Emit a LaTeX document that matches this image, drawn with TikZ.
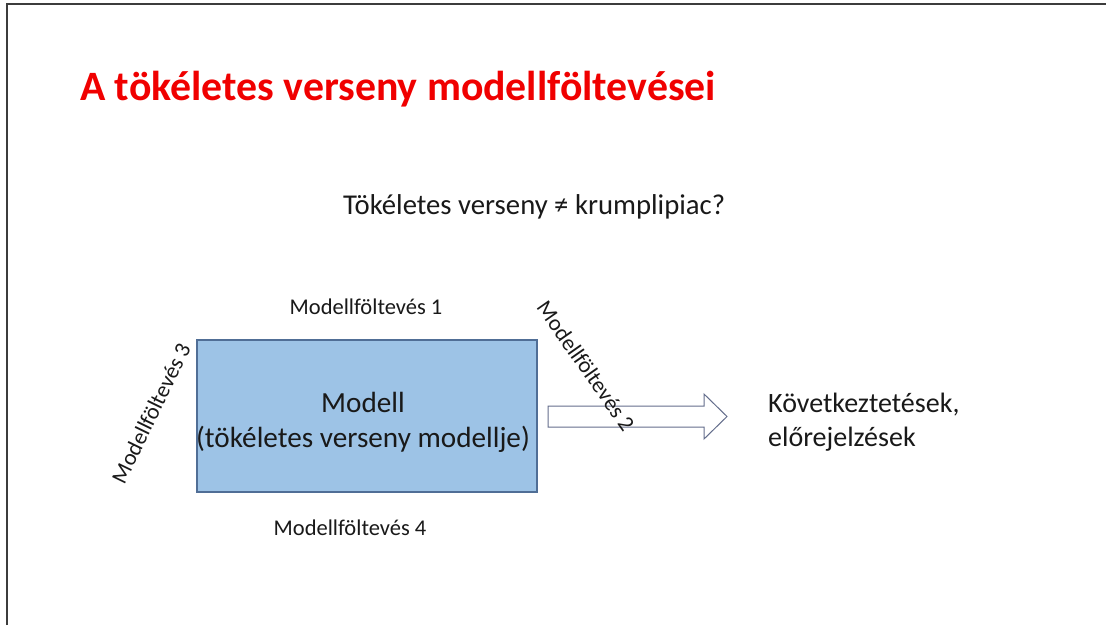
\documentclass[tikz,border=0pt]{standalone}
\usepackage{fontspec}
\setmainfont{Carlito}
\definecolor{titlered}{RGB}{240,0,0}
\definecolor{boxfill}{RGB}{157,195,230}
\definecolor{boxedge}{RGB}{80,110,150}
\definecolor{arredge}{RGB}{100,110,140}
\definecolor{txt}{RGB}{25,25,25}
\definecolor{frame}{RGB}{60,60,60}
\tikzset{
  assum/.style={text=txt, font=\fontsize{22.5}{26}\selectfont, inner sep=0pt},
  big/.style={text=txt, font=\fontsize{29.2}{35}\selectfont, align=center, inner sep=0pt},
}
\begin{document}
\begin{tikzpicture}[x=1pt,y=-1pt]
\useasboundingbox (0,0) rectangle (1106,625);
\fill[white] (0,0) rectangle (1106,625);
% frame (top and left edges visible)
\draw[frame, line width=2pt] (7,625) -- (7,4) -- (1106,4);
% title
\node[anchor=base west, inner sep=0pt, text=titlered, font=\fontsize{41.8}{50}\selectfont\bfseries] (title) at (80,100) {A tökéletes verseny modellföltevései};
% question
\node[anchor=base west, inner sep=0pt, text=txt, font=\fontsize{28.7}{34}\selectfont] (q) at (343,214) {Tökéletes verseny ≠ krumplipiac?};
% model box
\node[draw=boxedge, fill=boxfill, line width=1.2pt, minimum width=340pt, minimum height=152pt] (model) at (367,416) {};
\node[big, anchor=base] (modeltxt) at (363,447) {Modell\\(tökéletes verseny modellje)};
% block arrow
\coordinate (as) at (548,416.5);
\draw[arredge, line width=1pt, fill=white] (as) ++(0,-10.5) -- ++(156,0) -- ++(0,-12) -- ++(23,22.5) -- ++(-23,22.5) -- ++(0,-12) -- ++(-156,0) -- cycle;
% assumptions
\node[assum] (a1) at (366,307) {Modellföltevés 1};
\node[assum, rotate=-55] (a2) at (586,366) {Modellföltevés 2};
\node[assum, rotate=64] (a3) at (151,413) {Modellföltevés 3};
\node[assum] (a4) at (350,528) {Modellföltevés 4};
% conclusions
\node[big, align=left, anchor=base west, font=\fontsize{28}{34}\selectfont] (concl) at (768,446) {Következtetések,\\előrejelzések};
\end{tikzpicture}
\end{document}
